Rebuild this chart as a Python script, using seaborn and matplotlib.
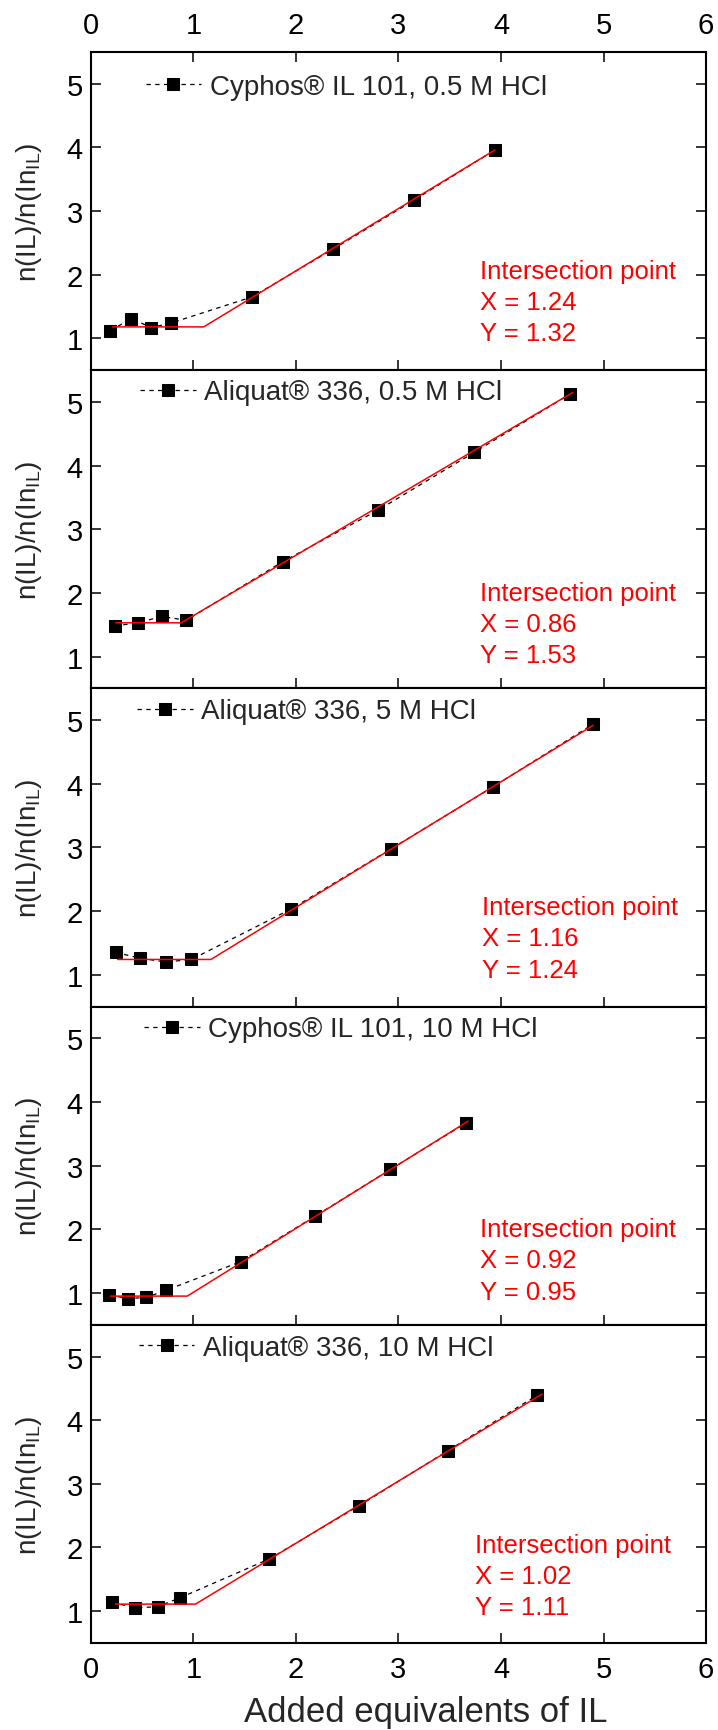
import matplotlib
matplotlib.use("Agg")
import matplotlib.pyplot as plt
from matplotlib import font_manager
import seaborn as sns
import pandas as pd

# ---------------- data ----------------
series_labels = [
    "Cyphos® IL 101, 0.5 M HCl",
    "Aliquat® 336, 0.5 M HCl",
    "Aliquat® 336, 5 M HCl",
    "Cyphos® IL 101, 10 M HCl",
    "Aliquat® 336, 10 M HCl",
]

x_p1 = [0.19, 0.39, 0.59, 0.78, 1.57, 2.36, 3.15, 3.94]
y_p1 = [1.12, 1.31, 1.17, 1.24, 1.65, 2.40, 3.17, 3.96]
x_p2 = [0.23, 0.46, 0.69, 0.93, 1.87, 2.80, 3.74, 4.67]
y_p2 = [1.48, 1.53, 1.63, 1.57, 2.49, 3.30, 4.21, 5.12]
x_p3 = [0.24, 0.48, 0.73, 0.98, 1.95, 2.93, 3.92, 4.90]
y_p3 = [1.35, 1.26, 1.20, 1.24, 2.03, 2.98, 3.95, 4.94]
x_p4 = [0.18, 0.36, 0.54, 0.73, 1.46, 2.19, 2.92, 3.66]
y_p4 = [0.97, 0.91, 0.93, 1.04, 1.49, 2.21, 2.94, 3.67]
x_p5 = [0.21, 0.43, 0.65, 0.87, 1.74, 2.61, 3.48, 4.35]
y_p5 = [1.14, 1.05, 1.07, 1.21, 1.82, 2.65, 3.52, 4.39]

# red piecewise fit lines (start, kink, end)
fit_x_p1 = [0.21, 1.10, 3.94]
fit_y_p1 = [1.18, 1.18, 3.96]
fit_x_p2 = [0.24, 0.88, 4.70]
fit_y_p2 = [1.53, 1.53, 5.15]
fit_x_p3 = [0.26, 1.17, 4.90]
fit_y_p3 = [1.24, 1.24, 4.92]
fit_x_p4 = [0.19, 0.94, 3.68]
fit_y_p4 = [0.95, 0.95, 3.70]
fit_x_p5 = [0.24, 1.02, 4.40]
fit_y_p5 = [1.11, 1.11, 4.41]

intersect_x = ["1.24", "0.86", "1.16", "0.92", "1.02"]
intersect_y = ["1.32", "1.53", "1.24", "0.95", "1.11"]

x_ticks = [0, 1, 2, 3, 4, 5, 6]
y_ticks = [1, 2, 3, 4, 5]
x_label = "Added equivalents of IL"
y_label = r"n(IL)/n(In$_\mathregular{IL}$)"

xs = [x_p1, x_p2, x_p3, x_p4, x_p5]
ys = [y_p1, y_p2, y_p3, y_p4, y_p5]
fxs = [fit_x_p1, fit_x_p2, fit_x_p3, fit_x_p4, fit_x_p5]
fys = [fit_y_p1, fit_y_p2, fit_y_p3, fit_y_p4, fit_y_p5]

# ---------------- style ----------------
sns.set_theme(style="ticks")
avail = {f.name for f in font_manager.fontManager.ttflist}
fam = "Liberation Sans Narrow" if "Liberation Sans Narrow" in avail else "Liberation Sans"
plt.rcParams["font.family"] = [fam, "DejaVu Sans"]
plt.rcParams["mathtext.fontset"] = "custom"
plt.rcParams["mathtext.rm"] = fam
plt.rcParams["mathtext.it"] = fam

legend_pos = [(0.089, 0.89), (0.080, 0.93), (0.075, 0.928), (0.087, 0.928), (0.078, 0.928)]
text_x = [0.633, 0.632, 0.636, 0.632, 0.625]
text_y = [0.312, 0.30, 0.312, 0.30, 0.308]

fig, axes = plt.subplots(5, 1, figsize=(7.18, 17.31), dpi=100, sharex=True)
fig.subplots_adjust(left=0.1267, right=0.9833, top=0.9694, bottom=0.0503, hspace=0)

for i, ax in enumerate(axes):
    df = pd.DataFrame({"x": xs[i], "y": ys[i]})
    sns.lineplot(data=df, x="x", y="y", ax=ax, color="black", lw=0.9,
                 linestyle=(0, (3.5, 3.5)), marker="s", markersize=9,
                 markeredgecolor="black", markerfacecolor="black",
                 label=series_labels[i], sort=False, zorder=2)
    dff = pd.DataFrame({"x": fxs[i], "y": fys[i]})
    sns.lineplot(data=dff, x="x", y="y", ax=ax, color="#ff0000", lw=1.1,
                 sort=False, zorder=3, legend=False)

    ax.set_xlim(0, 6)
    ax.set_ylim(0.5, 5.5)
    ax.set_xticks(x_ticks)
    ax.set_yticks(y_ticks)
    ax.set_xlabel("")
    ax.set_ylabel(y_label, fontsize=20, labelpad=16)
    for sp in ax.spines.values():
        sp.set_visible(True)
        sp.set_linewidth(1.5)
        sp.set_color("black")
    ax.tick_params(axis="both", direction="in", length=7, width=1.1,
                   labelsize=21, colors="black")
    ax.tick_params(axis="y", right=True, left=True, pad=6)
    ax.tick_params(axis="x", bottom=True, top=(i == 0), labeltop=(i == 0),
                   labelbottom=(i == 4), pad=9)

    h, l = ax.get_legend_handles_labels()
    ax.legend(h, l, loc="center left", bbox_to_anchor=legend_pos[i],
              frameon=False, fontsize=20, handlelength=2.0, handletextpad=0.3,
              borderpad=0, borderaxespad=0)

    for k, s in enumerate(["Intersection point", "X = " + intersect_x[i], "Y = " + intersect_y[i]]):
        ax.text(text_x[i], text_y[i] - 0.098 * k, s, color="#ff0000", fontsize=18.5,
                transform=ax.transAxes, va="center", ha="left")

axes[-1].set_xlabel(x_label, fontsize=25)
axes[-1].xaxis.set_label_coords(0.545, -0.215)
axes[-1].xaxis.label.set_va("center")

fig.savefig("out.png", dpi=100)
